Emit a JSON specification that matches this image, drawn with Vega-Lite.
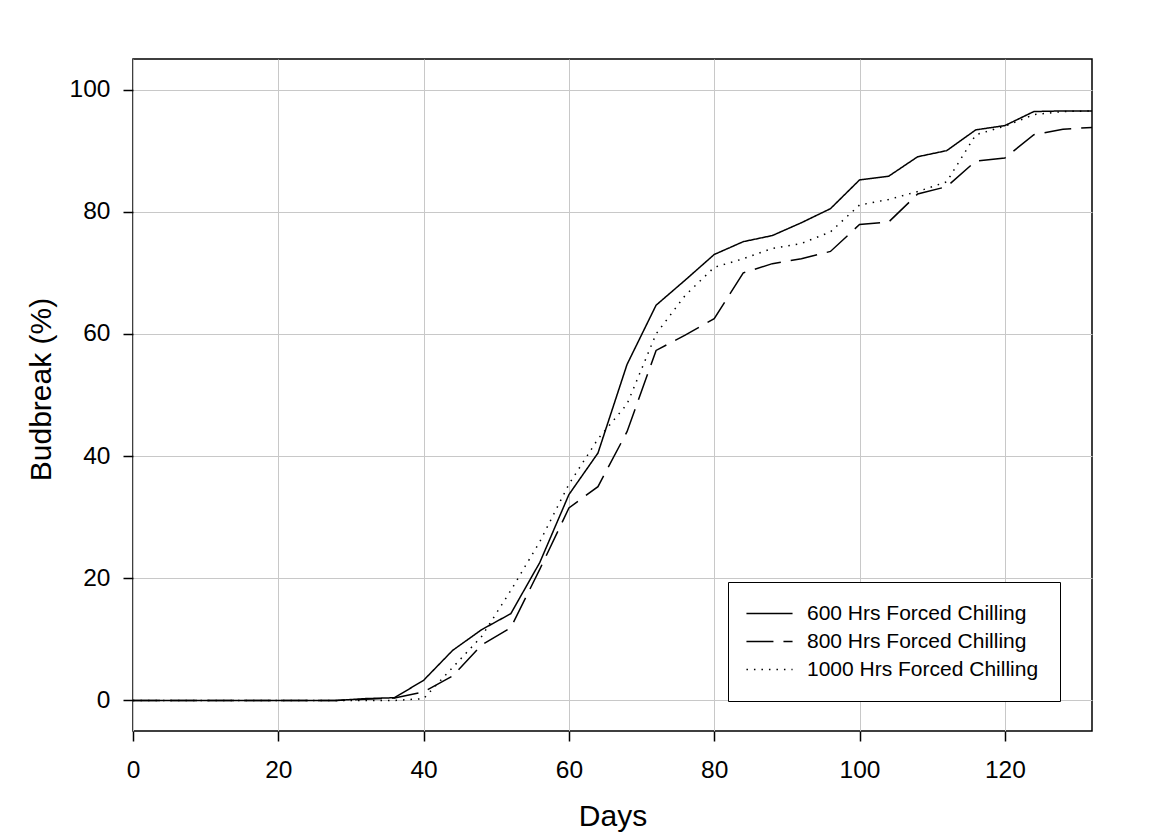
{
  "$schema": "https://vega.github.io/schema/vega-lite/v6.json",
  "width": 959,
  "height": 672,
  "autosize": "none",
  "padding": {"left": 133, "top": 59, "right": 57, "bottom": 109},
  "background": "white",
  "config": {
    "font": "Liberation Sans",
    "view": {"stroke": "black", "strokeWidth": 1.5},
    "axis": {
      "grid": true,
      "gridColor": "#c8c8c8",
      "gridWidth": 1,
      "domain": false,
      "tickColor": "black",
      "tickWidth": 1.5,
      "tickSize": 10,
      "labelColor": "black",
      "labelFontSize": 24.5,
      "labelFlush": false,
      "labelOverlap": false,
      "titleColor": "black",
      "titleFontSize": 30,
      "titleFontWeight": "normal"
    }
  },
  "data": {
    "values": [
      {"day": 0, "series": "600 Hrs Forced Chilling", "budbreak": 0},
      {"day": 4, "series": "600 Hrs Forced Chilling", "budbreak": 0},
      {"day": 8, "series": "600 Hrs Forced Chilling", "budbreak": 0},
      {"day": 12, "series": "600 Hrs Forced Chilling", "budbreak": 0},
      {"day": 16, "series": "600 Hrs Forced Chilling", "budbreak": 0},
      {"day": 20, "series": "600 Hrs Forced Chilling", "budbreak": 0},
      {"day": 24, "series": "600 Hrs Forced Chilling", "budbreak": 0},
      {"day": 28, "series": "600 Hrs Forced Chilling", "budbreak": 0},
      {"day": 32, "series": "600 Hrs Forced Chilling", "budbreak": 0.3},
      {"day": 36, "series": "600 Hrs Forced Chilling", "budbreak": 0.45},
      {"day": 40, "series": "600 Hrs Forced Chilling", "budbreak": 3.3},
      {"day": 44, "series": "600 Hrs Forced Chilling", "budbreak": 8.2},
      {"day": 48, "series": "600 Hrs Forced Chilling", "budbreak": 11.6},
      {"day": 52, "series": "600 Hrs Forced Chilling", "budbreak": 14.2},
      {"day": 56, "series": "600 Hrs Forced Chilling", "budbreak": 22.6},
      {"day": 60, "series": "600 Hrs Forced Chilling", "budbreak": 33.7},
      {"day": 64, "series": "600 Hrs Forced Chilling", "budbreak": 40.5},
      {"day": 68, "series": "600 Hrs Forced Chilling", "budbreak": 55.0},
      {"day": 72, "series": "600 Hrs Forced Chilling", "budbreak": 64.7},
      {"day": 76, "series": "600 Hrs Forced Chilling", "budbreak": 68.8},
      {"day": 80, "series": "600 Hrs Forced Chilling", "budbreak": 73.0},
      {"day": 84, "series": "600 Hrs Forced Chilling", "budbreak": 75.1},
      {"day": 88, "series": "600 Hrs Forced Chilling", "budbreak": 76.1},
      {"day": 92, "series": "600 Hrs Forced Chilling", "budbreak": 78.2},
      {"day": 96, "series": "600 Hrs Forced Chilling", "budbreak": 80.5},
      {"day": 100, "series": "600 Hrs Forced Chilling", "budbreak": 85.2},
      {"day": 104, "series": "600 Hrs Forced Chilling", "budbreak": 85.8},
      {"day": 108, "series": "600 Hrs Forced Chilling", "budbreak": 89.0},
      {"day": 112, "series": "600 Hrs Forced Chilling", "budbreak": 90.0},
      {"day": 116, "series": "600 Hrs Forced Chilling", "budbreak": 93.4},
      {"day": 120, "series": "600 Hrs Forced Chilling", "budbreak": 94.1},
      {"day": 124, "series": "600 Hrs Forced Chilling", "budbreak": 96.4},
      {"day": 128, "series": "600 Hrs Forced Chilling", "budbreak": 96.5},
      {"day": 132, "series": "600 Hrs Forced Chilling", "budbreak": 96.5},
      {"day": 0, "series": "800 Hrs Forced Chilling", "budbreak": 0},
      {"day": 4, "series": "800 Hrs Forced Chilling", "budbreak": 0},
      {"day": 8, "series": "800 Hrs Forced Chilling", "budbreak": 0},
      {"day": 12, "series": "800 Hrs Forced Chilling", "budbreak": 0},
      {"day": 16, "series": "800 Hrs Forced Chilling", "budbreak": 0},
      {"day": 20, "series": "800 Hrs Forced Chilling", "budbreak": 0},
      {"day": 24, "series": "800 Hrs Forced Chilling", "budbreak": 0},
      {"day": 28, "series": "800 Hrs Forced Chilling", "budbreak": 0},
      {"day": 32, "series": "800 Hrs Forced Chilling", "budbreak": 0.2},
      {"day": 36, "series": "800 Hrs Forced Chilling", "budbreak": 0.4},
      {"day": 40, "series": "800 Hrs Forced Chilling", "budbreak": 1.4},
      {"day": 44, "series": "800 Hrs Forced Chilling", "budbreak": 4.0},
      {"day": 48, "series": "800 Hrs Forced Chilling", "budbreak": 9.1},
      {"day": 52, "series": "800 Hrs Forced Chilling", "budbreak": 11.9},
      {"day": 56, "series": "800 Hrs Forced Chilling", "budbreak": 21.5},
      {"day": 60, "series": "800 Hrs Forced Chilling", "budbreak": 31.5},
      {"day": 64, "series": "800 Hrs Forced Chilling", "budbreak": 35.0},
      {"day": 68, "series": "800 Hrs Forced Chilling", "budbreak": 44.0},
      {"day": 72, "series": "800 Hrs Forced Chilling", "budbreak": 57.3},
      {"day": 76, "series": "800 Hrs Forced Chilling", "budbreak": 59.8},
      {"day": 80, "series": "800 Hrs Forced Chilling", "budbreak": 62.5},
      {"day": 84, "series": "800 Hrs Forced Chilling", "budbreak": 70.0},
      {"day": 88, "series": "800 Hrs Forced Chilling", "budbreak": 71.5},
      {"day": 92, "series": "800 Hrs Forced Chilling", "budbreak": 72.3},
      {"day": 96, "series": "800 Hrs Forced Chilling", "budbreak": 73.5},
      {"day": 100, "series": "800 Hrs Forced Chilling", "budbreak": 77.9},
      {"day": 104, "series": "800 Hrs Forced Chilling", "budbreak": 78.3},
      {"day": 108, "series": "800 Hrs Forced Chilling", "budbreak": 82.9},
      {"day": 112, "series": "800 Hrs Forced Chilling", "budbreak": 84.1},
      {"day": 116, "series": "800 Hrs Forced Chilling", "budbreak": 88.3},
      {"day": 120, "series": "800 Hrs Forced Chilling", "budbreak": 88.8},
      {"day": 124, "series": "800 Hrs Forced Chilling", "budbreak": 92.6},
      {"day": 128, "series": "800 Hrs Forced Chilling", "budbreak": 93.5},
      {"day": 132, "series": "800 Hrs Forced Chilling", "budbreak": 93.8},
      {"day": 0, "series": "1000 Hrs Forced Chilling", "budbreak": 0},
      {"day": 4, "series": "1000 Hrs Forced Chilling", "budbreak": 0},
      {"day": 8, "series": "1000 Hrs Forced Chilling", "budbreak": 0},
      {"day": 12, "series": "1000 Hrs Forced Chilling", "budbreak": 0},
      {"day": 16, "series": "1000 Hrs Forced Chilling", "budbreak": 0},
      {"day": 20, "series": "1000 Hrs Forced Chilling", "budbreak": 0},
      {"day": 24, "series": "1000 Hrs Forced Chilling", "budbreak": 0},
      {"day": 28, "series": "1000 Hrs Forced Chilling", "budbreak": 0},
      {"day": 32, "series": "1000 Hrs Forced Chilling", "budbreak": 0},
      {"day": 36, "series": "1000 Hrs Forced Chilling", "budbreak": 0},
      {"day": 40, "series": "1000 Hrs Forced Chilling", "budbreak": 0.3},
      {"day": 44, "series": "1000 Hrs Forced Chilling", "budbreak": 5.4},
      {"day": 48, "series": "1000 Hrs Forced Chilling", "budbreak": 10.5},
      {"day": 52, "series": "1000 Hrs Forced Chilling", "budbreak": 18.0},
      {"day": 56, "series": "1000 Hrs Forced Chilling", "budbreak": 26.0},
      {"day": 60, "series": "1000 Hrs Forced Chilling", "budbreak": 35.4},
      {"day": 64, "series": "1000 Hrs Forced Chilling", "budbreak": 42.8},
      {"day": 68, "series": "1000 Hrs Forced Chilling", "budbreak": 48.5},
      {"day": 72, "series": "1000 Hrs Forced Chilling", "budbreak": 60.0},
      {"day": 76, "series": "1000 Hrs Forced Chilling", "budbreak": 66.3},
      {"day": 80, "series": "1000 Hrs Forced Chilling", "budbreak": 70.9},
      {"day": 84, "series": "1000 Hrs Forced Chilling", "budbreak": 72.3},
      {"day": 88, "series": "1000 Hrs Forced Chilling", "budbreak": 74.0},
      {"day": 92, "series": "1000 Hrs Forced Chilling", "budbreak": 74.8},
      {"day": 96, "series": "1000 Hrs Forced Chilling", "budbreak": 76.7},
      {"day": 100, "series": "1000 Hrs Forced Chilling", "budbreak": 81.1},
      {"day": 104, "series": "1000 Hrs Forced Chilling", "budbreak": 82.0},
      {"day": 108, "series": "1000 Hrs Forced Chilling", "budbreak": 83.3},
      {"day": 112, "series": "1000 Hrs Forced Chilling", "budbreak": 84.9},
      {"day": 116, "series": "1000 Hrs Forced Chilling", "budbreak": 92.6},
      {"day": 120, "series": "1000 Hrs Forced Chilling", "budbreak": 94.0},
      {"day": 124, "series": "1000 Hrs Forced Chilling", "budbreak": 95.9},
      {"day": 128, "series": "1000 Hrs Forced Chilling", "budbreak": 96.4},
      {"day": 132, "series": "1000 Hrs Forced Chilling", "budbreak": 96.5}
    ]
  },
  "mark": {"type": "line", "color": "black", "strokeWidth": 1.5, "strokeCap": "butt", "clip": true},
  "encoding": {
    "x": {
      "field": "day",
      "type": "quantitative",
      "scale": {"domain": [0, 132], "nice": false, "zero": false},
      "axis": {
        "values": [0, 20, 40, 60, 80, 100, 120],
        "title": "Days",
        "labelPadding": 17,
        "titleBaseline": "alphabetic",
        "titleY": 94
      }
    },
    "y": {
      "field": "budbreak",
      "type": "quantitative",
      "scale": {"domain": [-5, 105], "nice": false, "zero": false},
      "axis": {
        "values": [0, 20, 40, 60, 80, 100],
        "title": "Budbreak (%)",
        "labelPadding": 13,
        "titleBaseline": "alphabetic",
        "titleX": -83,
        "titleY": 330,
        "titleAlign": "center",
        "titleAngle": -90
      }
    },
    "strokeDash": {
      "field": "series",
      "type": "nominal",
      "scale": {
        "domain": ["600 Hrs Forced Chilling", "800 Hrs Forced Chilling", "1000 Hrs Forced Chilling"],
        "range": [[1, 0], [27, 10], [1.5, 6]]
      },
      "legend": {
        "title": null,
        "orient": "none",
        "legendX": 595,
        "legendY": 523,
        "padding": 21,
        "strokeColor": "black",
        "fillColor": "white",
        "cornerRadius": 0,
        "symbolType": "M-5,0H5",
        "symbolSize": 85,
        "symbolOffset": 10,
        "symbolStrokeColor": "black",
        "symbolStrokeWidth": 1.5,
        "labelFontSize": 21,
        "labelColor": "black",
        "labelOffset": 27,
        "rowPadding": 6,
        "labelLimit": 400
      }
    }
  }
}
